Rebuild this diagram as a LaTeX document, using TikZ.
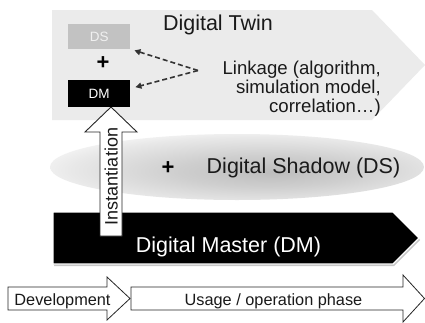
\documentclass[tikz,border=0pt]{standalone}
\usepackage{fontspec}
\setmainfont{Liberation Sans}
\usetikzlibrary{shadows,arrows.meta}
\definecolor{twingray}{HTML}{EBEBEB}
\definecolor{dsgray}{HTML}{C2C2C2}
\definecolor{txt}{HTML}{1A1A1A}
\pgfdeclareradialshading{shadowrad}{\pgfpoint{5bp}{-4bp}}{color(0bp)=(black!26); color(12bp)=(black!19); color(25bp)=(black!9); color(31bp)=(black!3); color(35bp)=(white); color(60bp)=(white)}
\begin{document}
\begin{tikzpicture}[x=1bp,y=-1bp,
  big/.style={font=\fontsize{21.5bp}{24bp}\selectfont, text=txt, inner sep=0pt},
  mid/.style={font=\fontsize{18.6bp}{19bp}\selectfont, text=txt, inner sep=0pt},
  small/.style={font=\fontsize{16.3bp}{18bp}\selectfont, text=txt, inner sep=0pt},
  plus/.style={font=\fontsize{22bp}{24bp}\selectfont\bfseries, text=black, inner sep=0pt},
  minibox/.style={minimum width=62bp, inner sep=0pt, font=\fontsize{13.5bp}{15bp}\selectfont},
  hollow/.style={draw=black!85, fill=white, line width=0.9bp, line join=miter},
  link/.style={draw=black!80, line width=1.6bp, dash pattern=on 5bp off 3bp, -{Triangle[length=6bp,width=6bp]}},
  softshadow/.style={general shadow={fill=black, opacity=0.22, shadow xshift=1.2bp, shadow yshift=-2bp}}
]
\useasboundingbox (0,0) rectangle (425,323);
\fill[white] (0,0) rectangle (425,323);

% Digital Twin band
\path[fill=twingray] (52,10) -- (372,10) -- (425,65) -- (372,120) -- (52,120) -- cycle;
\node[big, anchor=base] (twin) at (218,30) {Digital Twin};

% Digital Shadow ellipse
\path[shading=shadowrad] (237,167) ellipse [x radius=187, y radius=33];
\node[big, anchor=base] (shadow) at (303.5,173) {Digital Shadow (DS)};
\node[plus] (plus2) at (168,168) {+};

% Digital Master band
\path[fill=black, draw=white, line width=1.2bp, softshadow] (53,212) -- (393,212) -- (419,238) -- (393,264) -- (53,264) -- cycle;
\node[big, anchor=base, text=white] (master) at (228.5,252) {Digital Master (DM)};

% Instantiation arrow
\draw[hollow] (100,236) -- (100,132) -- (85,132) -- (111,107) -- (137,132) -- (122,132) -- (122,236) -- cycle;
\node[mid, rotate=90, anchor=base, font=\fontsize{18bp}{20bp}\selectfont] (inst) at (117.5,176.5) {Instantiation};

% DS and DM boxes
\node[minibox, fill=dsgray, text=white!94!black, minimum height=25bp, anchor=north west] (ds) at (68,24) {DS};
\node[plus] (plus1) at (103,63) {+};
\node[minibox, fill=black, text=white, minimum height=27bp, anchor=north west] (dm) at (68,80) {DM};

% Linkage text
\node[mid, anchor=base east] (lk1) at (381,74) {Linkage (algorithm,};
\node[mid, anchor=base east] (lk2) at (381,93) {simulation model,};
\node[mid, anchor=base east] (lk3) at (381,112) {correlation…)};
\coordinate (lk) at (198,70.5);
\draw[link] (lk) -- ([xshift=4bp,yshift=-1bp]ds.south east);
\draw[link] (lk) -- ([xshift=5bp,yshift=6.5bp]dm.east);

% Phase arrows
\draw[hollow, line width=0.8bp] (8,287) -- (107,287) -- (107,277) -- (130,298.5) -- (107,320) -- (107,310) -- (8,310) -- cycle;
\node[small, anchor=base] (dev) at (62.5,305) {Development};
\draw[hollow, line width=0.8bp] (131,287) -- (403,287) -- (403,275) -- (424.5,298.5) -- (403,322) -- (403,310) -- (131,310) -- cycle;
\node[small, anchor=base] (use) at (273.5,305) {Usage / operation phase};
\end{tikzpicture}
\end{document}
